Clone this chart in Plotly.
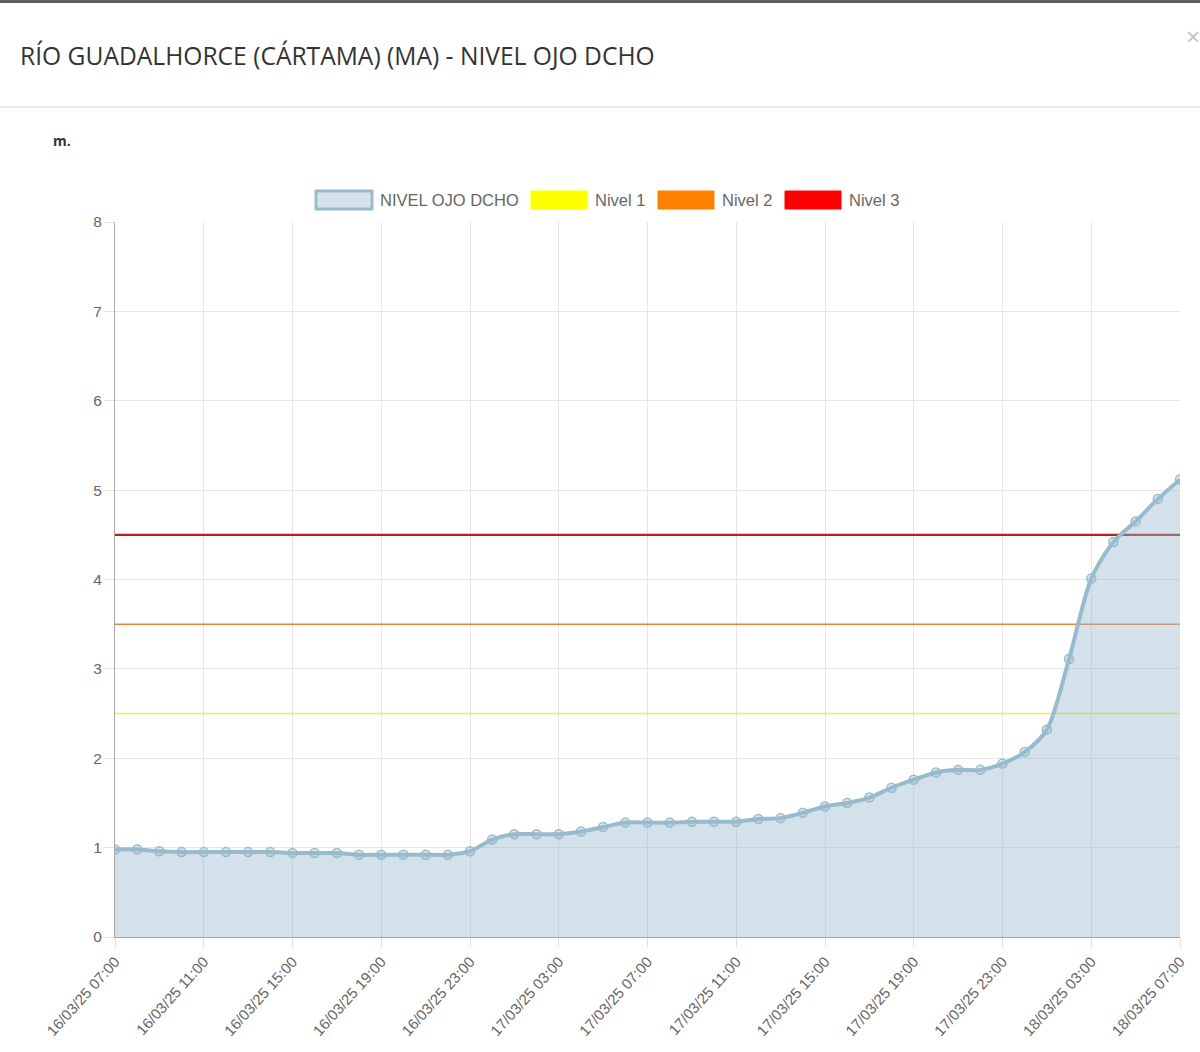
import pandas as pd
import plotly.graph_objects as go

# Hourly river level readings (m), 16/03/25 07:00 -> 18/03/25 07:00
start_time = "2025-03-16 07:00"
nivel_ojo_dcho = [
    0.98, 0.98, 0.96, 0.95, 0.95, 0.95, 0.95, 0.95, 0.94, 0.94,
    0.94, 0.92, 0.92, 0.92, 0.92, 0.92, 0.96, 1.09, 1.15, 1.15,
    1.15, 1.18, 1.23, 1.28, 1.28, 1.28, 1.29, 1.29, 1.29, 1.32,
    1.33, 1.39, 1.46, 1.50, 1.56, 1.67, 1.76, 1.84, 1.87, 1.87,
    1.94, 2.07, 2.32, 3.11, 4.01, 4.42, 4.65, 4.90, 5.12,
]
times = pd.date_range(start_time, periods=len(nivel_ojo_dcho), freq="h")

# alert thresholds
threshold_names = ["Nivel 1", "Nivel 2", "Nivel 3"]
threshold_values = [2.5, 3.5, 4.5]
threshold_colors = ["#f2ee3a", "#ef8434", "#b81f1f"]
threshold_widths = [1.5, 1.5, 2.2]
swatch_colors = ["#ffff00", "#ff8000", "#ff0000"]

W, H = 1200, 1052
L, R, T, B = 115, 20, 222, 115
font = "Liberation Sans, Arial, sans-serif"


def px(x):
    return (x - L) / (W - L - R)


def py(y):
    return (H - B - y) / (H - T - B)


fig = go.Figure()

for name, val, col, w in zip(threshold_names, threshold_values, threshold_colors, threshold_widths):
    fig.add_trace(go.Scatter(
        x=[times[0], times[-1]], y=[val, val], mode="lines", name=name,
        line=dict(color=col, width=w), hoverinfo="skip", showlegend=False,
    ))

fig.add_trace(go.Scatter(
    x=times, y=nivel_ojo_dcho, mode="lines+markers", name="NIVEL OJO DCHO",
    line=dict(color="#97bbcd", width=4, shape="spline", smoothing=0.8),
    marker=dict(size=9, color="rgba(151,187,205,0.35)",
                line=dict(color="#97bbcd", width=1.5)),
    fill="tozeroy", fillcolor="rgba(151,187,205,0.42)", showlegend=False,
))

shapes = [
    # dark top strip of the modal
    dict(type="rect", xref="paper", yref="paper", x0=px(0), x1=px(W), y0=py(0), y1=py(3),
         fillcolor="#5f5f5f", line_width=0, layer="above"),
    # header separator
    dict(type="line", xref="paper", yref="paper", x0=px(0), x1=px(W), y0=py(107), y1=py(107),
         line=dict(color="#e3e3e3", width=1.5)),
]

annotations = [
    dict(text="RÍO GUADALHORCE (CÁRTAMA) (MA) - NIVEL OJO DCHO", xref="paper", yref="paper",
         x=px(18), y=py(55), xanchor="left", yanchor="middle", showarrow=False,
         font=dict(family="Open Sans, sans-serif", size=24.6, color="#333333")),
    dict(text="×", xref="paper", yref="paper", x=px(1184), y=py(36), xanchor="left",
         yanchor="middle", showarrow=False, font=dict(family=font, size=24, color="#c4c4c4")),
    dict(text="<b>m.</b>", xref="paper", yref="paper", x=px(51), y=py(140), xanchor="left",
         yanchor="middle", showarrow=False,
         font=dict(family="Open Sans, sans-serif", size=14, color="#333333")),
]

# legend drawn by hand (box swatches)
legend_items = [("NIVEL OJO DCHO", "#d5e4eb", "#97bbcd", 3, 316)]
for name, col, x0 in zip(threshold_names, swatch_colors, [531, 658, 785]):
    legend_items.append((name, col, col, 1, x0))
for name, fill, border, bw, x0 in legend_items:
    shapes.append(dict(type="rect", xref="paper", yref="paper", x0=px(x0), x1=px(x0 + 56),
                       y0=py(209), y1=py(191), fillcolor=fill,
                       line=dict(color=border, width=bw)))
    annotations.append(dict(text=name, xref="paper", yref="paper", x=px(x0 + 62), y=py(200),
                            xanchor="left", yanchor="middle", showarrow=False,
                            font=dict(family=font, size=16.5, color="#666666")))

fig.update_layout(
    width=W, height=H, margin=dict(l=L, r=R, t=T, b=B),
    paper_bgcolor="white", plot_bgcolor="white", showlegend=False,
    shapes=shapes, annotations=annotations,
    font=dict(family=font, size=14, color="#666666"),
)
fig.update_xaxes(
    range=[times[0], times[-1]], tick0=times[0], dtick=4 * 3600 * 1000,
    tickformat="%d/%m/%y %H:%M", tickangle=-48,
    showgrid=True, gridcolor="#e6e6e6", gridwidth=1,
    ticks="outside", ticklen=9, tickcolor="#e0e0e0",
    showline=True, linecolor="#a8a8a8", linewidth=1,
    tickfont=dict(size=15, color="#666666"),
)
fig.update_yaxes(
    range=[0, 8], dtick=1, showgrid=True, gridcolor="#e6e6e6", gridwidth=1,
    ticks="outside", ticklen=9, tickcolor="#e0e0e0",
    showline=True, linecolor="#a8a8a8", linewidth=1, zeroline=False,
    tickfont=dict(size=15.5, color="#666666"),
)

# drop the default 8px page margin so the figure sits at the window's corner
fig.write_html("out.html", config={"displayModeBar": False},
               post_script="document.body.style.margin='0';")
